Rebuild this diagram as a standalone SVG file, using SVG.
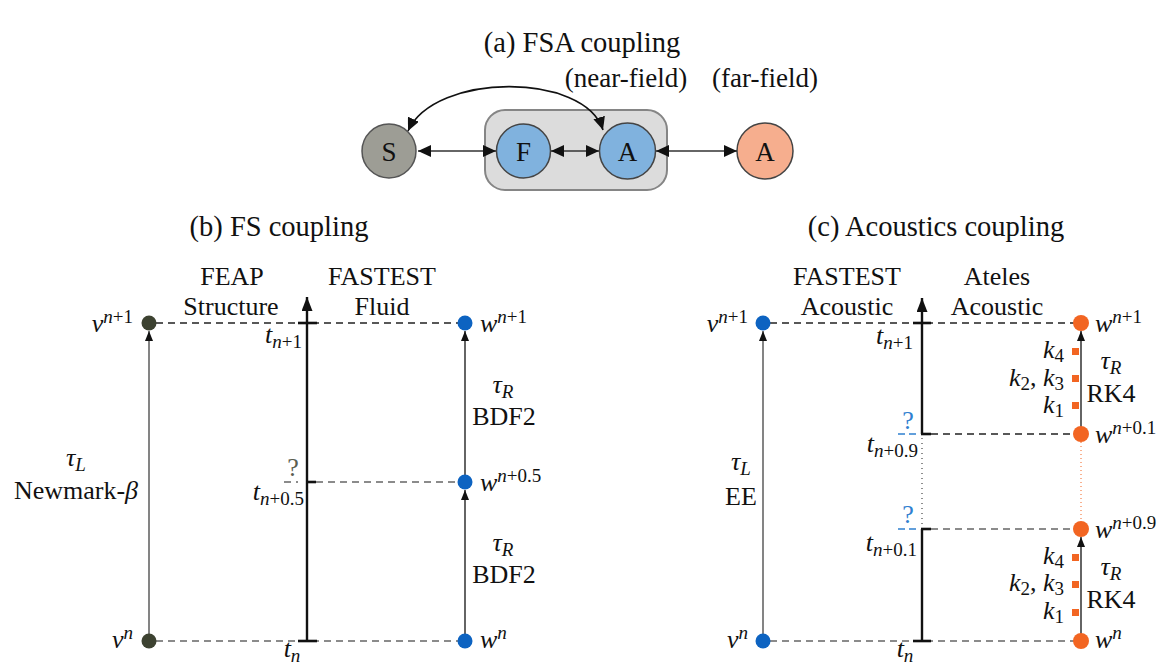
<svg xmlns="http://www.w3.org/2000/svg" width="1165" height="666" viewBox="0 0 1165 666">
<style>
text{font-family:"Liberation Serif","Times New Roman",serif;fill:#111}
.t{font-size:26px}
.ti{font-size:28.5px}
.a{font-size:27px}
.i{font-style:italic}
.s{font-size:19px}
.dk{stroke:#222;stroke-width:1.3;stroke-dasharray:7,5;fill:none}
.dg{stroke:#666;stroke-width:1.3;stroke-dasharray:7,5;fill:none}
.ax{stroke:#111;stroke-width:2.4;fill:none}
.tick{stroke:#111;stroke-width:2.6}
.gl{stroke:#777;stroke-width:1.8}
.bl{stroke:#111;stroke-width:1.3}
.sq{fill:#f26522}
</style>
<defs>
<marker id="mA" markerUnits="userSpaceOnUse" markerWidth="13" markerHeight="12" refX="13" refY="6" orient="auto-start-reverse"><path d="M0,0 L13,6 L0,12 z" fill="#111"/></marker>
<marker id="mAx" markerUnits="userSpaceOnUse" markerWidth="14" markerHeight="11" refX="14" refY="5.5" orient="auto"><path d="M0,0 L14,5.5 L0,11 z" fill="#111"/></marker>
<marker id="mS" markerUnits="userSpaceOnUse" markerWidth="10" markerHeight="8" refX="10" refY="4" orient="auto"><path d="M0,0 L10,4 L0,8 z" fill="#111"/></marker>
</defs>

<!-- (a) -->
<text class="ti" x="582" y="52" text-anchor="middle">(a) FSA coupling</text>
<g id="group-near">
<rect x="485" y="110" width="182" height="80" rx="20" fill="#dcdcdc" stroke="#858585" stroke-width="2"/>
</g>
<g id="label-near"><text class="a" x="626" y="87" text-anchor="middle">(near-field)</text></g>
<g id="label-far"><text class="a" x="765" y="87" text-anchor="middle">(far-field)</text></g>
<g id="node-S"><circle cx="389" cy="151" r="27" fill="#9d9d95" stroke="#555" stroke-width="1.5"/><text class="a" x="389" y="161" text-anchor="middle">S</text></g>
<g id="node-F"><circle cx="523.5" cy="151" r="27" fill="#80b2de" stroke="#444" stroke-width="1.5"/><text class="a" x="523.5" y="161" text-anchor="middle">F</text></g>
<g id="node-A-near"><circle cx="627.5" cy="151" r="28" fill="#80b2de" stroke="#444" stroke-width="1.5"/><text class="a" x="627.5" y="161" text-anchor="middle">A</text></g>
<g id="node-A-far"><circle cx="765" cy="151" r="28" fill="#f6ae8e" stroke="#444" stroke-width="1.5"/><text class="a" x="765" y="161" text-anchor="middle">A</text></g>
<g id="connectors-a" stroke="#333" stroke-width="1.6" fill="none">
<line x1="418" y1="151" x2="496" y2="151" marker-start="url(#mA)" marker-end="url(#mA)"/>
<line x1="551" y1="151" x2="599" y2="151" marker-start="url(#mA)" marker-end="url(#mA)"/>
<line x1="656" y1="151" x2="737" y2="151" marker-start="url(#mA)" marker-end="url(#mA)"/>
<path d="M603,130 C585,72 435,72 408,131" stroke="#111" marker-start="url(#mA)" marker-end="url(#mA)"/>
</g>

<!-- (b) -->
<text class="ti" x="279" y="236" text-anchor="middle">(b) FS coupling</text>
<g id="b-headers">
<text class="t" x="232" y="285" text-anchor="middle">FEAP</text>
<text class="t" x="231" y="315" text-anchor="middle">Structure</text>
<text class="t" x="382" y="285" text-anchor="middle">FASTEST</text>
<text class="t" x="382" y="315" text-anchor="middle">Fluid</text>
</g>
<g id="b-connectors">
<line class="dk" x1="156" y1="323" x2="458" y2="323"/>
<line class="dg" x1="316" y1="482" x2="458" y2="482"/>
<line class="dg" x1="284" y1="482" x2="298" y2="482"/>
<line class="dg" x1="156" y1="641" x2="458" y2="641"/>
<line class="ax" x1="307" y1="641" x2="307" y2="297" marker-end="url(#mAx)"/>
<line class="tick" x1="298" y1="323" x2="317" y2="323"/>
<line class="tick" x1="307" y1="482" x2="316" y2="482"/>
<line class="tick" x1="298" y1="641" x2="317" y2="641"/>
<line class="gl" x1="149" y1="634" x2="149" y2="331" marker-end="url(#mS)"/>
<line class="bl" x1="465" y1="634" x2="465" y2="490" marker-end="url(#mS)"/>
<line class="bl" x1="465" y1="475" x2="465" y2="331" marker-end="url(#mS)"/>
</g>
<g id="b-v-np1"><circle cx="149" cy="323" r="7.5" fill="#3d4231"/><text class="t" x="133" y="332" text-anchor="end"><tspan class="i">v</tspan><tspan class="s" dy="-9"><tspan class="i">n</tspan>+1</tspan></text></g>
<g id="b-v-n"><circle cx="149" cy="641" r="7.5" fill="#3d4231"/><text class="t" x="133" y="648" text-anchor="end"><tspan class="i">v</tspan><tspan class="s i" dy="-9">n</tspan></text></g>
<g id="b-w-np1"><circle cx="465" cy="323" r="7.5" fill="#0d63c1"/><text class="t" x="480" y="332"><tspan class="i">w</tspan><tspan class="s" dy="-9"><tspan class="i">n</tspan>+1</tspan></text></g>
<g id="b-w-np05"><circle cx="465" cy="482" r="7.5" fill="#0d63c1"/><text class="t" x="480" y="491"><tspan class="i">w</tspan><tspan class="s" dy="-9"><tspan class="i">n</tspan>+0.5</tspan></text></g>
<g id="b-w-n"><circle cx="465" cy="641" r="7.5" fill="#0d63c1"/><text class="t" x="480" y="648"><tspan class="i">w</tspan><tspan class="s i" dy="-9">n</tspan></text></g>
<g id="b-time-labels">
<text class="t" x="302" y="343" text-anchor="end"><tspan class="i">t</tspan><tspan class="s" dy="5"><tspan class="i">n</tspan>+1</tspan></text>
<text class="t" x="304" y="500" text-anchor="end"><tspan class="i">t</tspan><tspan class="s" dy="5"><tspan class="i">n</tspan>+0.5</tspan></text>
<text class="t" x="292" y="657" text-anchor="middle"><tspan class="i">t</tspan><tspan class="s i" dy="5">n</tspan></text>
<text class="t" x="293" y="476" text-anchor="middle" style="fill:#5b5e50">?</text>
</g>
<g id="b-methods">
<text class="t" x="76" y="466" text-anchor="middle"><tspan class="i">τ</tspan><tspan class="s i" dy="5">L</tspan></text>
<text class="t" x="76" y="499" text-anchor="middle">Newmark-<tspan class="i">β</tspan></text>
<text class="t" x="503" y="393" text-anchor="middle"><tspan class="i">τ</tspan><tspan class="s i" dy="5">R</tspan></text>
<text class="t" x="504" y="425" text-anchor="middle">BDF2</text>
<text class="t" x="503" y="551" text-anchor="middle"><tspan class="i">τ</tspan><tspan class="s i" dy="5">R</tspan></text>
<text class="t" x="504" y="583" text-anchor="middle">BDF2</text>
</g>

<!-- (c) -->
<text class="ti" x="936" y="236" text-anchor="middle">(c) Acoustics coupling</text>
<g id="c-headers">
<text class="t" x="847" y="285" text-anchor="middle">FASTEST</text>
<text class="t" x="847" y="315" text-anchor="middle">Acoustic</text>
<text class="t" x="997" y="285" text-anchor="middle">Ateles</text>
<text class="t" x="997" y="315" text-anchor="middle">Acoustic</text>
</g>
<g id="c-connectors">
<line class="dk" x1="770" y1="323" x2="1074" y2="323"/>
<line class="dk" x1="931" y1="434" x2="1074" y2="434"/>
<line class="dg" x1="931" y1="529" x2="1074" y2="529"/>
<line class="dg" x1="770" y1="641" x2="1074" y2="641"/>
<line stroke="#2f80d0" stroke-width="1.5" x1="898" y1="434" x2="920" y2="434" stroke-dasharray="7,4"/>
<line stroke="#2f80d0" stroke-width="1.5" x1="898" y1="529" x2="920" y2="529" stroke-dasharray="7,4"/>
<line class="ax" x1="922" y1="434" x2="922" y2="298" marker-end="url(#mAx)"/>
<line stroke="#444" stroke-width="1.2" stroke-dasharray="1,4" x1="922" y1="438" x2="922" y2="527"/>
<line class="ax" x1="922" y1="529" x2="922" y2="641"/>
<line class="tick" x1="913" y1="323" x2="931" y2="323"/>
<line class="tick" x1="921" y1="434" x2="931" y2="434"/>
<line class="tick" x1="921" y1="529" x2="931" y2="529"/>
<line class="tick" x1="913" y1="641" x2="931" y2="641"/>
<line class="gl" x1="763" y1="634" x2="763" y2="331" marker-end="url(#mS)"/>
<line class="bl" x1="1081" y1="427" x2="1081" y2="331" marker-end="url(#mS)"/>
<line class="bl" x1="1081" y1="634" x2="1081" y2="537" marker-end="url(#mS)"/>
<line stroke="#f26522" stroke-width="1" stroke-dasharray="1,3" x1="1081" y1="442" x2="1081" y2="521"/>
</g>
<g id="c-v-np1"><circle cx="763" cy="323" r="7.5" fill="#0d63c1"/><text class="t" x="748" y="332" text-anchor="end"><tspan class="i">v</tspan><tspan class="s" dy="-9"><tspan class="i">n</tspan>+1</tspan></text></g>
<g id="c-v-n"><circle cx="763" cy="641" r="7.5" fill="#0d63c1"/><text class="t" x="748" y="648" text-anchor="end"><tspan class="i">v</tspan><tspan class="s i" dy="-9">n</tspan></text></g>
<g id="c-w-np1"><circle cx="1081" cy="323" r="8" fill="#f26522"/><text class="t" x="1095" y="332"><tspan class="i">w</tspan><tspan class="s" dy="-9"><tspan class="i">n</tspan>+1</tspan></text></g>
<g id="c-w-np01"><circle cx="1081" cy="434" r="8" fill="#f26522"/><text class="t" x="1095" y="443"><tspan class="i">w</tspan><tspan class="s" dy="-9"><tspan class="i">n</tspan>+0.1</tspan></text></g>
<g id="c-w-np09"><circle cx="1081" cy="529" r="8" fill="#f26522"/><text class="t" x="1095" y="538"><tspan class="i">w</tspan><tspan class="s" dy="-9"><tspan class="i">n</tspan>+0.9</tspan></text></g>
<g id="c-w-n"><circle cx="1081" cy="641" r="8" fill="#f26522"/><text class="t" x="1095" y="648"><tspan class="i">w</tspan><tspan class="s i" dy="-9">n</tspan></text></g>
<g id="c-time-labels">
<text class="t" x="913" y="344" text-anchor="end"><tspan class="i">t</tspan><tspan class="s" dy="5"><tspan class="i">n</tspan>+1</tspan></text>
<text class="t" x="918" y="452" text-anchor="end"><tspan class="i">t</tspan><tspan class="s" dy="5"><tspan class="i">n</tspan>+0.9</tspan></text>
<text class="t" x="917" y="551" text-anchor="end"><tspan class="i">t</tspan><tspan class="s" dy="5"><tspan class="i">n</tspan>+0.1</tspan></text>
<text class="t" x="905" y="657" text-anchor="middle"><tspan class="i">t</tspan><tspan class="s i" dy="5">n</tspan></text>
<text class="t" x="908" y="429" text-anchor="middle" style="fill:#2f80d0">?</text>
<text class="t" x="908" y="523" text-anchor="middle" style="fill:#2f80d0">?</text>
</g>
<g id="c-methods">
<text class="t" x="741" y="470" text-anchor="middle"><tspan class="i">τ</tspan><tspan class="s i" dy="5">L</tspan></text>
<text class="t" x="741" y="505" text-anchor="middle">EE</text>
<text class="t" x="1111" y="369" text-anchor="middle"><tspan class="i">τ</tspan><tspan class="s i" dy="5">R</tspan></text>
<text class="t" x="1111" y="402" text-anchor="middle">RK4</text>
<text class="t" x="1111" y="575" text-anchor="middle"><tspan class="i">τ</tspan><tspan class="s i" dy="5">R</tspan></text>
<text class="t" x="1111" y="608" text-anchor="middle">RK4</text>
</g>
<g id="c-rk-stages-upper">
<rect class="sq" x="1072" y="348" width="7" height="7"/>
<rect class="sq" x="1072" y="375" width="7" height="7"/>
<rect class="sq" x="1072" y="402" width="7" height="7"/>
<text class="t" x="1064" y="358" text-anchor="end"><tspan class="i">k</tspan><tspan class="s" dy="4">4</tspan></text>
<text class="t" x="1064" y="386" text-anchor="end"><tspan class="i">k</tspan><tspan class="s" dy="4">2</tspan><tspan dy="-4">, </tspan><tspan class="i">k</tspan><tspan class="s" dy="4">3</tspan></text>
<text class="t" x="1064" y="413" text-anchor="end"><tspan class="i">k</tspan><tspan class="s" dy="4">1</tspan></text>
</g>
<g id="c-rk-stages-lower">
<rect class="sq" x="1072" y="554" width="7" height="7"/>
<rect class="sq" x="1072" y="581" width="7" height="7"/>
<rect class="sq" x="1072" y="609" width="7" height="7"/>
<text class="t" x="1064" y="564" text-anchor="end"><tspan class="i">k</tspan><tspan class="s" dy="4">4</tspan></text>
<text class="t" x="1064" y="591" text-anchor="end"><tspan class="i">k</tspan><tspan class="s" dy="4">2</tspan><tspan dy="-4">, </tspan><tspan class="i">k</tspan><tspan class="s" dy="4">3</tspan></text>
<text class="t" x="1064" y="619" text-anchor="end"><tspan class="i">k</tspan><tspan class="s" dy="4">1</tspan></text>
</g>
</svg>
